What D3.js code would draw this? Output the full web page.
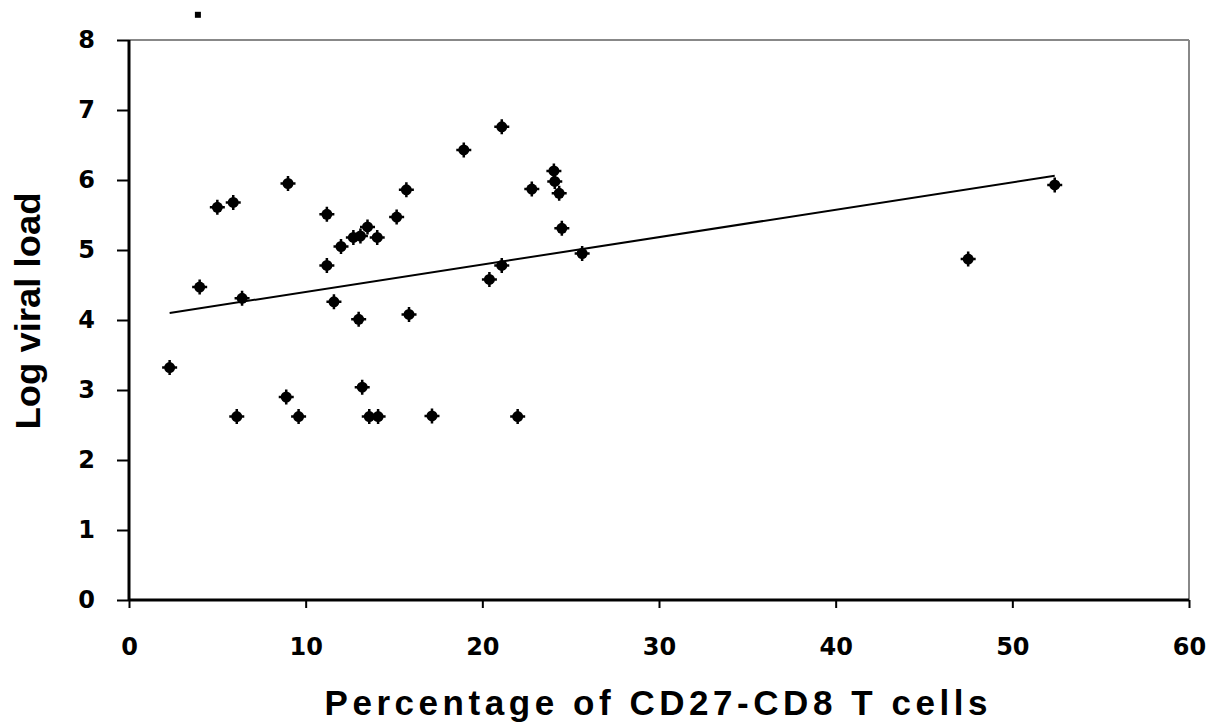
<!DOCTYPE html>
<html>
<head>
<meta charset="utf-8">
<script src="https://cdn.jsdelivr.net/npm/d3@7"></script>
<style>
  html, body { margin: 0; padding: 0; background: #fff; }
  svg { display: block; }
  text { font-family: "Liberation Sans", Arial, sans-serif; font-weight: bold; fill: #000; }
  .tick text { font-family: "DejaVu Sans", sans-serif; font-weight: bold; }
</style>
</head>
<body>
<svg id="chart" width="1220" height="725"></svg>
<script>
// ---- data ----
const xValues = [2.3, 4.0, 5.0, 5.9, 6.1, 6.4, 8.9, 9.0, 9.6, 11.2, 11.2, 11.6, 12.0, 12.7, 13.1, 13.5, 13.0, 13.2, 13.6, 14.1,
                 14.05, 15.15, 15.7, 15.85, 17.15, 18.95, 20.4, 21.1, 21.1, 22.0, 22.8, 24.05, 24.1, 24.35, 24.5, 25.65, 47.5, 52.4];
const yValues = [3.32, 4.47, 5.61, 5.68, 2.62, 4.31, 2.90, 5.95, 2.62, 5.51, 4.78, 4.26, 5.05, 5.18, 5.20, 5.33, 4.01, 3.04, 2.62, 2.62,
                 5.18, 5.47, 5.86, 4.08, 2.63, 6.43, 4.58, 6.76, 4.78, 2.62, 5.87, 6.13, 5.98, 5.81, 5.31, 4.95, 4.87, 5.93];
const outlierX = [3.9];
const outlierY = [8.36];
const trendX = [2.3, 52.4];
const trendY = [4.10, 6.06];
const xTicks = [0, 10, 20, 30, 40, 50, 60];
const yTicks = [0, 1, 2, 3, 4, 5, 6, 7, 8];
const xTitle = "Percentage of CD27-CD8 T cells";
const yTitle = "Log viral load";

// ---- layout ----
const svg = d3.select("#chart");
const L = 129, R = 1189, T = 40, B = 600;
const x = d3.scaleLinear().domain([0, 60]).range([L, R]);
const y = d3.scaleLinear().domain([0, 8]).range([B, T]);

// frame (top & right gray)
svg.append("line").attr("x1", L).attr("x2", R).attr("y1", T).attr("y2", T)
  .attr("stroke", "#888").attr("stroke-width", 2);
svg.append("line").attr("x1", R).attr("x2", R).attr("y1", T).attr("y2", B)
  .attr("stroke", "#888").attr("stroke-width", 2);

// y axis
const yAxis = d3.axisLeft(y).tickValues(yTicks).tickSize(12).tickPadding(22).tickFormat(d3.format("d"));
const gy = svg.append("g").attr("transform", `translate(${L},0)`).call(yAxis);
gy.select(".domain").attr("stroke", "#000").attr("stroke-width", 3).attr("d", `M0,${T}V${B}`);
gy.selectAll(".tick line").attr("stroke", "#000").attr("stroke-width", 2);
gy.selectAll(".tick text").style("font-size", "24px").attr("dy", "0.3em");

// x axis
const xAxis = d3.axisBottom(x).tickValues(xTicks).tickSize(8).tickPadding(30).tickFormat(d3.format("d"));
const gx = svg.append("g").attr("transform", `translate(0,${B})`).call(xAxis);
gx.select(".domain").attr("stroke", "#000").attr("stroke-width", 3).attr("d", `M${L},0H${R}`);
gx.selectAll(".tick line").attr("stroke", "#000").attr("stroke-width", 2);
gx.selectAll(".tick text").style("font-size", "24px");

// titles
svg.append("text").attr("x", 656).attr("y", 715).attr("text-anchor", "middle")
  .style("font-size", "35px").attr("textLength", 663).attr("lengthAdjust", "spacing").text(xTitle);
svg.append("text").attr("transform", "translate(40,311) rotate(-90)").attr("text-anchor", "middle")
  .style("font-size", "35px").attr("textLength", 237).attr("lengthAdjust", "spacingAndGlyphs").text(yTitle);

// trend line
svg.append("line")
  .attr("x1", x(trendX[0])).attr("y1", y(trendY[0]))
  .attr("x2", x(trendX[1])).attr("y2", y(trendY[1]))
  .attr("stroke", "#000").attr("stroke-width", 2);

// points
const pts = xValues.map((v, i) => [v, yValues[i]]);
const g = svg.append("g");
const mk = g.selectAll("g.pt").data(pts).join("g").attr("class", "pt")
  .attr("transform", d => `translate(${x(d[0])},${y(d[1])})`);
mk.append("circle").attr("r", 5.5).attr("fill", "#000");
mk.append("path").attr("d", "M-7.5,0H7.5M0,-7.5V7.5").attr("stroke", "#000").attr("stroke-width", 2.5);

// outlier drawn as a small square above the plot
svg.selectAll("rect.out").data(outlierX.map((v, i) => [v, outlierY[i]])).join("rect").attr("class", "out")
  .attr("x", d => x(d[0]) - 3).attr("y", d => y(d[1]) - 3).attr("width", 6).attr("height", 6).attr("fill", "#000");
</script>
</body>
</html>
